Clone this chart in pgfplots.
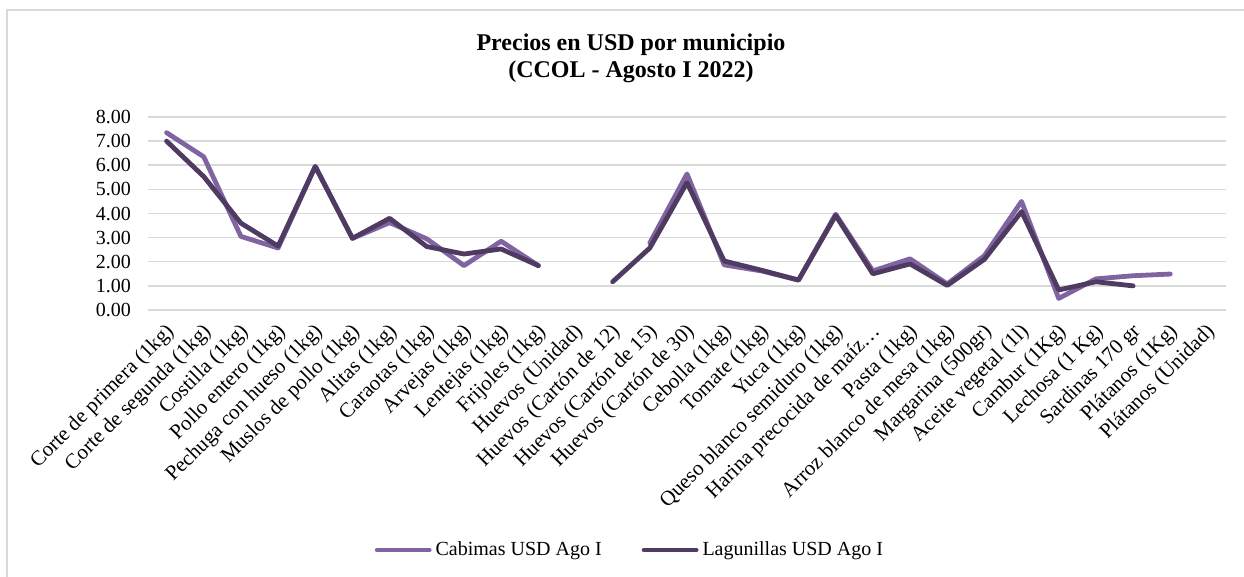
\documentclass[border=0pt]{standalone}
\usepackage{fontspec}
\setmainfont{Liberation Serif}
\usepackage{pgfplots}
\usepackage{pgfplotstable}
\pgfplotsset{compat=1.18}
\definecolor{cab}{RGB}{128,100,162}
\definecolor{lag}{RGB}{79,59,98}
\definecolor{gridc}{RGB}{217,217,217}

\pgfplotstableread{
x cab lag
0 7.35 7.00
1 6.35 5.53
2 3.05 3.60
3 2.57 2.65
4 5.95 5.95
5 2.97 2.97
6 3.62 3.80
7 2.95 2.63
8 1.84 2.32
9 2.85 2.53
10 1.84 1.84
11 nan nan
12 nan 1.17
13 2.78 2.57
14 5.64 5.28
15 1.87 2.03
16 1.62 1.65
17 1.24 1.24
18 3.97 3.92
19 1.62 1.50
20 2.12 1.91
21 1.08 1.02
22 2.25 2.10
23 4.50 4.08
24 0.48 0.83
25 1.29 1.17
26 1.42 1.00
27 1.49 nan
28 nan nan
}\datatable

\begin{document}
\begin{tikzpicture}[x=1pt,y=1pt]
\path[use as bounding box] (0,0) rectangle (622,288.5);
\draw[gridc, line width=1pt] (3.5,-5) -- (3.5,283.5) -- (630,283.5);
\node[font=\fontsize{12}{13.5}\selectfont\bfseries, align=center] at (315.5,259.25) {Precios en USD por municipio\\(CCOL - Agosto I 2022)};
\begin{axis}[
  at={(74pt,133.5pt)}, anchor=south west,
  scale only axis, width=539pt, height=96.5pt,
  xmin=-0.5, xmax=28.5, ymin=0, ymax=8,
  axis line style={draw=none},
  major tick length=0pt,
  ymajorgrids, grid style={gridc, line width=0.75pt},
  ytick={0,1,...,8},
  yticklabel style={font=\fontsize{10}{12}\selectfont, xshift=-5pt,
    /pgf/number format/fixed, /pgf/number format/fixed zerofill,
    /pgf/number format/precision=2, /pgf/number format/assume math mode=true},
  xtick={0,1,...,28},
  xticklabels={Corte de primera (1kg),Corte de segunda (1kg),Costilla (1kg),Pollo entero (1kg),Pechuga con hueso (1kg),Muslos de pollo (1kg),Alitas (1kg),Caraotas (1kg),Arvejas (1kg),Lentejas (1kg),Frijoles (1kg),Huevos (Unidad),Huevos (Cartón de 12),Huevos (Cartón de 15),Huevos (Cartón de 30),Cebolla (1kg),Tomate (1kg),Yuca (1kg),Queso blanco semiduro (1kg),Harina precocida de maíz…,Pasta (1kg),Arroz blanco de mesa (1kg),Margarina (500gr),Aceite vegetal (1l),Cambur (1Kg),Lechosa (1 Kg),Sardinas 170 gr,Plátanos (1Kg),Plátanos (Unidad)},
  xticklabel style={font=\fontsize{10.5}{12}\selectfont, xshift=-1.2pt, yshift=-4.3pt, rotate=45, anchor=north east, inner sep=1pt},
  unbounded coords=jump,
  legend columns=2,
  legend style={at={(0.448,-1.2435)}, anchor=center, draw=none, font=\fontsize{10}{12}\selectfont,
    /tikz/every even column/.append style={column sep=18pt}},
  legend image code/.code={\draw[#1, line cap=round] (0pt,0pt) -- (26pt,0pt);},
]
\addplot[cab, line width=2.4pt, line join=round, line cap=round] table[x=x, y=cab] {\datatable};
\addlegendentry{Cabimas USD Ago I}
\addplot[lag, line width=2.4pt, line join=round, line cap=round] table[x=x, y=lag] {\datatable};
\addlegendentry{Lagunillas USD Ago I}
\end{axis}
\end{tikzpicture}
\end{document}
